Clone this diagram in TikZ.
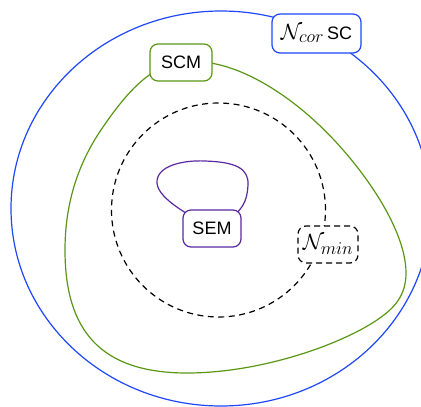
\RequirePackage{fix-cm}
\documentclass[tikz,border=0pt]{standalone}
\usepackage{fontspec}
\setmainfont{Liberation Sans}
\DeclareMathSizes{22}{22}{18}{14}
\definecolor{cblue}{RGB}{30,70,250}
\definecolor{cgreen}{RGB}{90,150,20}
\definecolor{cpurple}{RGB}{90,40,160}
\newcommand{\bigmath}[1]{{\fontsize{22}{26}\selectfont$#1$}}
\tikzset{
  lbl/.style={draw, rounded corners=8pt, line width=1.2pt, fill=white, text=black,
    minimum height=37pt, inner xsep=9pt, inner ysep=2pt, font=\fontsize{18}{22}\selectfont},
  curve/.style={line width=1.2pt}
}
\begin{document}
\begin{tikzpicture}[x=1pt,y=-1pt]
\useasboundingbox (0,0) rectangle (421,407);
\clip (0,0) rectangle (421,407);
% outer blue ellipse
\draw[curve, cblue] (221,208.5) ellipse [x radius=210pt, y radius=197.5pt];
% node anchors for loops
\coordinate (scmc) at (181,62.5);
\coordinate (semc) at (212,228.5);
% green loop
\draw[curve, cgreen] (scmc)
  .. controls (230,55) and (285,93) .. (317,123)
  .. controls (355,158) and (406,225) .. (406,273)
  .. controls (406,295) and (395,308) .. (377,320)
  .. controls (340,345) and (260,373) .. (187,373)
  .. controls (100,373) and (65,330) .. (65,250)
  .. controls (65,200) and (80,160) .. (103,127)
  .. controls (125,95) and (150,65) .. (scmc);
% dashed circle
\draw[line width=1.2pt, dash pattern=on 6pt off 4.5pt] (218.5,210) circle [radius=107pt];
% purple loop
\draw[curve, cpurple] (semc)
  .. controls (195,218) and (158,200) .. (157,183)
  .. controls (156,165) and (185,160) .. (205,161)
  .. controls (235,162) and (249,168) .. (248,185)
  .. controls (247,205) and (240,215) .. (semc);
% nodes
\node[lbl, draw=cblue, minimum height=39pt, minimum width=89pt, inner xsep=6pt] (ncor) at (316.5,33.5) {\bigmath{\mathcal{N}_{cor}}\,SC};
\node[lbl, draw=cgreen, minimum width=62pt] (scm) at (scmc) {SCM};
\node[lbl, draw=cpurple, minimum width=58pt, inner xsep=6pt] (sem) at (semc) {SEM};
\node[lbl, dashed, dash pattern=on 6pt off 4pt, minimum width=60pt, inner xsep=3pt] (nmin) at (328,244.5) {\bigmath{\mathcal{N}_{min}}};
\end{tikzpicture}
\end{document}
